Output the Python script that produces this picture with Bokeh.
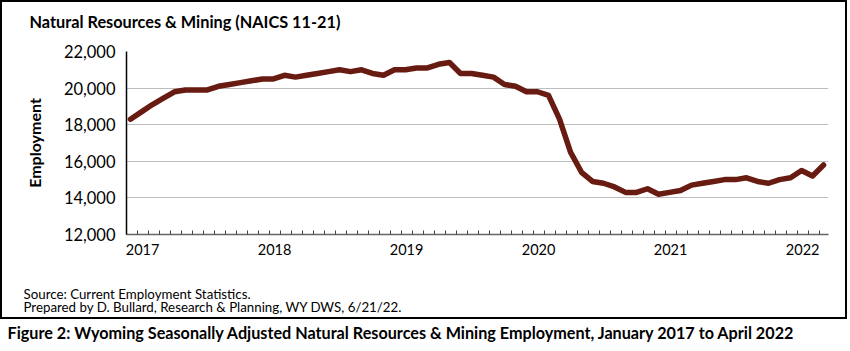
from bokeh.plotting import figure
from bokeh.layouts import column
from bokeh.models import Range1d, FixedTicker, NumeralTickFormatter
from bokeh.core.properties import value
from bokeh.embed import file_html
from bokeh.resources import INLINE

title = "Natural Resources & Mining (NAICS 11-21)"
y_label = "Employment"
source_lines = ["Source: Current Employment Statistics.",
                "Prepared by D. Bullard, Research & Planning, WY DWS, 6/21/22."]
caption = "Figure 2: Wyoming Seasonally Adjusted Natural Resources & Mining Employment, January 2017 to April 2022"

years = [2017, 2018, 2019, 2020, 2021, 2022]
# monthly, January 2017 .. April 2022
employment = [
    18300, 18700, 19100, 19450, 19800, 19900, 19900, 19900, 20100, 20200, 20300, 20400,
    20500, 20500, 20700, 20600, 20700, 20800, 20900, 21000, 20900, 21000, 20800, 20700,
    21000, 21000, 21100, 21100, 21300, 21400, 20800, 20800, 20700, 20600, 20200, 20100,
    19800, 19800, 19600, 18300, 16500, 15400, 14900, 14800, 14600, 14300, 14300, 14500,
    14200, 14300, 14400, 14700, 14800, 14900, 15000, 15000, 15100, 14900, 14800, 15000,
    15100, 15500, 15200, 15800,
]
y_ticks = [12000, 14000, 16000, 18000, 20000, 22000]

months = list(range(len(employment)))
FONT = "Lato"
INNER_W = 843


def text_fig(w, h):
    f = figure(width=w, height=h, output_backend="svg", toolbar_location=None,
               x_range=Range1d(0, w), y_range=Range1d(h, 0),
               x_axis_type=None, y_axis_type=None,
               min_border_left=0, min_border_right=0,
               min_border_top=0, min_border_bottom=0)
    f.outline_line_color = None
    f.grid.grid_line_color = None
    return f


# title strip
p_top = text_fig(INNER_W, 40)
p_top.text(x=[27], y=[19], text=[title], text_font=value(FONT), text_font_style="bold",
           text_font_size="16.3px", text_baseline="middle", text_color="black")

# chart
p = figure(width=INNER_W, height=220, output_backend="svg", toolbar_location=None,
           x_range=Range1d(-0.36, 63.45), y_range=Range1d(12000, 22000),
           min_border_left=124, min_border_right=17, min_border_top=9, min_border_bottom=28)
p.outline_line_color = None

p.line(months, employment, line_color="#681b11", line_width=5.5, line_join="round", line_cap="round")

ya = p.yaxis[0]
ya.ticker = FixedTicker(ticks=y_ticks)
ya.formatter = NumeralTickFormatter(format="0,0")
ya.major_tick_line_color = None
ya.minor_tick_line_color = None
ya.axis_line_color = "black"
ya.axis_line_width = 1.5
ya.major_label_text_font = FONT
ya.major_label_text_font_size = "16.5px"
ya.major_label_text_color = "black"
ya.major_label_standoff = 5
ya.axis_label = y_label
ya.axis_label_text_font = FONT
ya.axis_label_text_font_style = "bold"
ya.axis_label_text_font_size = "16px"
ya.axis_label_text_color = "black"
ya.axis_label_standoff = 17

xa = p.xaxis[0]
major = [12 * k + 1.1 for k in range(len(years))]
xa.ticker = FixedTicker(ticks=major, minor_ticks=[i - 0.36 for i in range(len(employment) + 1)])
xa.major_label_overrides = {m: str(y) for m, y in zip(major, years)}
xa.major_tick_line_color = None
xa.minor_tick_in = 4
xa.minor_tick_out = 0
xa.minor_tick_line_color = "#444444"
xa.axis_line_color = "#666666"
xa.axis_line_width = 1.5
xa.major_label_text_font = FONT
xa.major_label_text_font_size = "14.5px"
xa.major_label_text_color = "black"
xa.major_label_standoff = 3

p.xgrid.grid_line_color = None
p.ygrid.grid_line_color = "#bdbdbd"
p.ygrid.grid_line_width = 1.2

# source strip
p_src = text_fig(INNER_W, 55)
p_src.text(x=[21, 21], y=[31, 44], text=source_lines, text_font=value(FONT),
           text_font_size="13.3px", text_baseline="middle", text_color="black")

boxed = column(p_top, column(p, spacing=0), p_src, spacing=0,
               styles={"border": "2px solid black"})

# caption strip
p_cap = text_fig(850, 30)
p_cap.text(x=[7], y=[13], text=[caption], text_font=value(FONT), text_font_style="bold",
           text_font_size="16.2px", text_baseline="middle", text_color="black")

page = column(boxed, p_cap, spacing=0)

open("out.html", "w").write(file_html(page, INLINE))
